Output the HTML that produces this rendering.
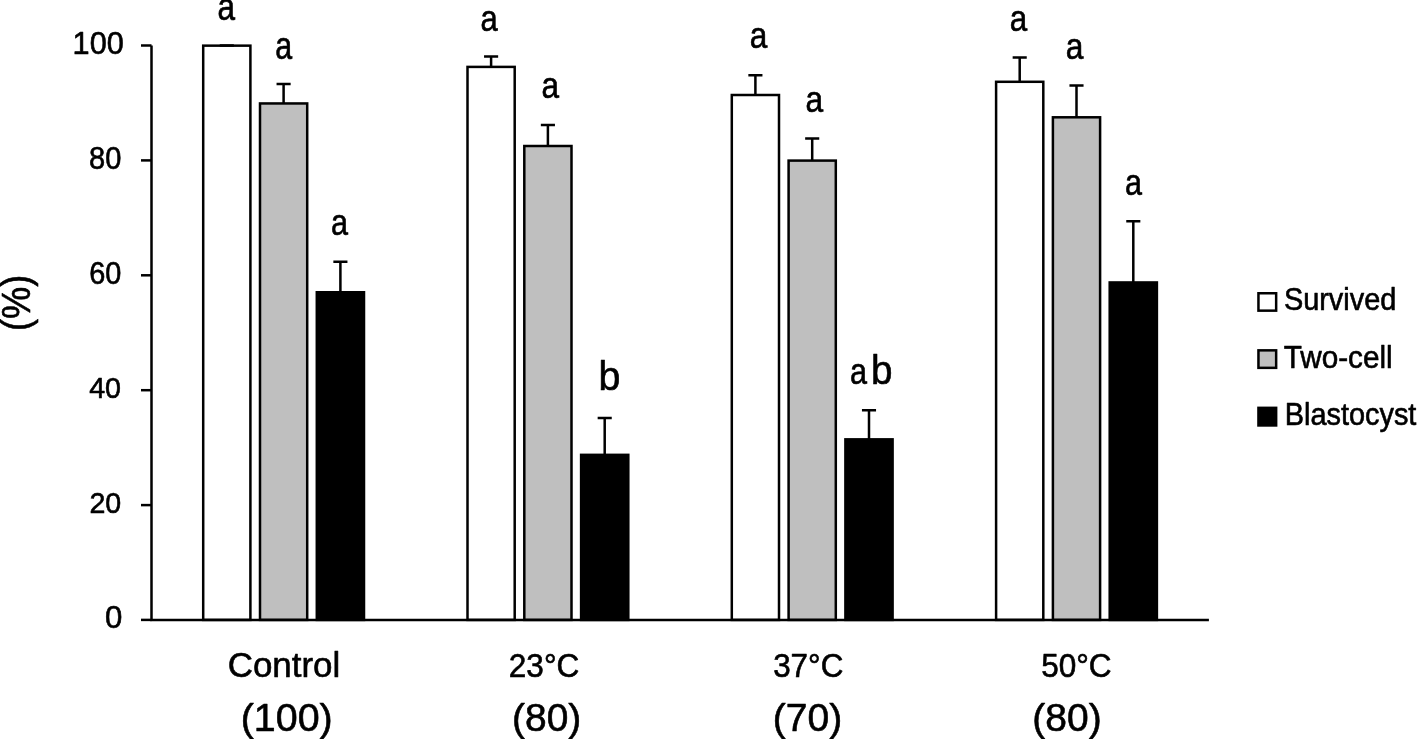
<!DOCTYPE html>
<html><head><meta charset="utf-8"><style>
html,body{margin:0;padding:0;background:#fff;overflow:hidden}
svg{display:block;will-change:transform}
text{font-family:"Liberation Sans",sans-serif;font-size:100px;fill:#000;stroke:#000;stroke-linejoin:round}
</style></head><body>
<svg width="1418" height="739" viewBox="0 0 1418 739">
<rect width="1418" height="739" fill="#fff"/>
<rect x="203.20" y="45.65" width="47.2" height="574.25" fill="#fff"/><rect x="203.20" y="45.65" width="47.2" height="574.25" fill="none" stroke="#000" stroke-width="2.5"/><rect x="260.00" y="103.45" width="47.2" height="516.45" fill="#bfbfbf"/><rect x="260.00" y="103.45" width="47.2" height="516.45" fill="none" stroke="#000" stroke-width="2.5"/><rect x="316.80" y="292.25" width="47.2" height="327.65" fill="#000"/><rect x="316.80" y="292.25" width="47.2" height="327.65" fill="none" stroke="#000" stroke-width="2.5"/><rect x="467.50" y="66.90" width="47.2" height="553.00" fill="#fff"/><rect x="467.50" y="66.90" width="47.2" height="553.00" fill="none" stroke="#000" stroke-width="2.5"/><rect x="524.30" y="146.00" width="47.2" height="473.90" fill="#bfbfbf"/><rect x="524.30" y="146.00" width="47.2" height="473.90" fill="none" stroke="#000" stroke-width="2.5"/><rect x="581.10" y="454.85" width="47.2" height="165.05" fill="#000"/><rect x="581.10" y="454.85" width="47.2" height="165.05" fill="none" stroke="#000" stroke-width="2.5"/><rect x="731.80" y="95.00" width="47.2" height="524.90" fill="#fff"/><rect x="731.80" y="95.00" width="47.2" height="524.90" fill="none" stroke="#000" stroke-width="2.5"/><rect x="788.60" y="160.60" width="47.2" height="459.30" fill="#bfbfbf"/><rect x="788.60" y="160.60" width="47.2" height="459.30" fill="none" stroke="#000" stroke-width="2.5"/><rect x="845.40" y="439.35" width="47.2" height="180.55" fill="#000"/><rect x="845.40" y="439.35" width="47.2" height="180.55" fill="none" stroke="#000" stroke-width="2.5"/><rect x="996.10" y="81.80" width="47.2" height="538.10" fill="#fff"/><rect x="996.10" y="81.80" width="47.2" height="538.10" fill="none" stroke="#000" stroke-width="2.5"/><rect x="1052.90" y="117.30" width="47.2" height="502.60" fill="#bfbfbf"/><rect x="1052.90" y="117.30" width="47.2" height="502.60" fill="none" stroke="#000" stroke-width="2.5"/><rect x="1109.70" y="282.45" width="47.2" height="337.45" fill="#000"/><rect x="1109.70" y="282.45" width="47.2" height="337.45" fill="none" stroke="#000" stroke-width="2.5"/>
<g stroke="#000" stroke-width="2.5" fill="none"><path d="M226.80 45.65V45.50M219.75 45.50H233.85"/><path d="M283.60 103.45V83.95M276.55 83.95H290.65"/><path d="M340.40 292.25V261.65M333.35 261.65H347.45"/><path d="M491.10 66.90V56.60M484.05 56.60H498.15"/><path d="M547.90 146.00V125.00M540.85 125.00H554.95"/><path d="M604.70 454.85V418.00M597.65 418.00H611.75"/><path d="M755.40 95.00V75.20M748.35 75.20H762.45"/><path d="M812.20 160.60V138.50M805.15 138.50H819.25"/><path d="M869.00 439.35V410.30M861.95 410.30H876.05"/><path d="M1019.70 81.80V57.40M1012.65 57.40H1026.75"/><path d="M1076.50 117.30V85.60M1069.45 85.60H1083.55"/><path d="M1133.30 282.45V221.30M1126.25 221.30H1140.35"/></g>
<path d="M151.5 45.5V619.9H1208.9" fill="none" stroke="#000" stroke-width="2.5"/><path d="M141 45.5H151.5" stroke="#000" stroke-width="2.5"/><path d="M141 160.4H151.5" stroke="#000" stroke-width="2.5"/><path d="M141 275.3H151.5" stroke="#000" stroke-width="2.5"/><path d="M141 390.2H151.5" stroke="#000" stroke-width="2.5"/><path d="M141 505.1H151.5" stroke="#000" stroke-width="2.5"/><path d="M141 619.9H151.5" stroke="#000" stroke-width="2.5"/>
<rect x="1258.45" y="293.25" width="17.70" height="17.40" fill="#fff" stroke="#000" stroke-width="2.5"/><rect x="1258.45" y="350.35" width="17.70" height="17.50" fill="#bfbfbf" stroke="#000" stroke-width="2.5"/><rect x="1258.45" y="407.85" width="17.70" height="17.60" fill="#000" stroke="#000" stroke-width="2.5"/>
<text transform="matrix(0.30675 0 0 0.30563 72.599 54.294)" stroke-width="1.96">100</text>
<text transform="matrix(0.29029 0 0 0.30423 88.994 168.596)" stroke-width="2.02">80</text>
<text transform="matrix(0.28878 0 0 0.30845 89.156 283.892)" stroke-width="2.01">60</text>
<text transform="matrix(0.28667 0 0 0.30141 89.183 398.199)" stroke-width="2.04">40</text>
<text transform="matrix(0.28585 0 0 0.30141 89.471 513.399)" stroke-width="2.04">20</text>
<text transform="matrix(0.31158 0 0 0.30423 105.054 628.096)" stroke-width="1.95">0</text>
<text transform="matrix(0.31569 0 0 0.38000 217.379 20.120)" stroke-width="1.72">a</text>
<text transform="matrix(0.30392 0 0 0.38545 275.132 59.015)" stroke-width="1.74">a</text>
<text transform="matrix(0.30588 0 0 0.37273 331.024 235.227)" stroke-width="1.77">a</text>
<text transform="matrix(0.30980 0 0 0.37636 480.506 31.324)" stroke-width="1.75">a</text>
<text transform="matrix(0.31569 0 0 0.37818 541.479 97.822)" stroke-width="1.73">a</text>
<text transform="matrix(0.31569 0 0 0.37818 749.679 48.322)" stroke-width="1.73">a</text>
<text transform="matrix(0.31765 0 0 0.37636 805.571 111.724)" stroke-width="1.73">a</text>
<text transform="matrix(0.31373 0 0 0.37818 1009.788 30.622)" stroke-width="1.73">a</text>
<text transform="matrix(0.31765 0 0 0.37636 1065.871 59.424)" stroke-width="1.73">a</text>
<text transform="matrix(0.30588 0 0 0.37636 1125.124 195.224)" stroke-width="1.76">a</text>
<text transform="matrix(0.39333 0 0 0.40408 598.543 390.396)" stroke-width="1.50">b</text>
<text transform="matrix(0.30588 0 0 0.37273 849.924 384.427)" stroke-width="1.77">a</text>
<text transform="matrix(0.38667 0 0 0.40136 871.087 384.399)" stroke-width="1.52">b</text>
<text transform="matrix(0.34911 0 0 0.34150 227.754 676.859)" stroke-width="1.74">Control</text>
<text transform="matrix(0.31562 0 0 0.34085 508.822 676.859)" stroke-width="1.83">23°C</text>
<text transform="matrix(0.31415 0 0 0.34085 773.143 676.859)" stroke-width="1.83">37°C</text>
<text transform="matrix(0.31555 0 0 0.34085 1041.138 676.859)" stroke-width="1.83">50°C</text>
<text transform="matrix(0.39412 0 0 0.38732 240.735 731.413)" stroke-width="1.54">(100)</text>
<text transform="matrix(0.38912 0 0 0.38732 512.065 731.413)" stroke-width="1.55">(80)</text>
<text transform="matrix(0.39033 0 0 0.38732 772.758 731.413)" stroke-width="1.54">(70)</text>
<text transform="matrix(0.38973 0 0 0.38732 1032.362 731.413)" stroke-width="1.54">(80)</text>
<text transform="matrix(0.28915 0 0 0.30476 1283.899 310.295)" stroke-width="2.02">Survived</text>
<text transform="matrix(0.29734 0 0 0.31020 1283.657 367.990)" stroke-width="1.98">Two-cell</text>
<text transform="matrix(0.28904 0 0 0.31156 1284.688 424.688)" stroke-width="2.00">Blastocyst</text>
<text transform="matrix(0 -0.36237 0.40143 0 30.099 330.974)" stroke-width="1.57">(%)</text>
</svg>
</body></html>
